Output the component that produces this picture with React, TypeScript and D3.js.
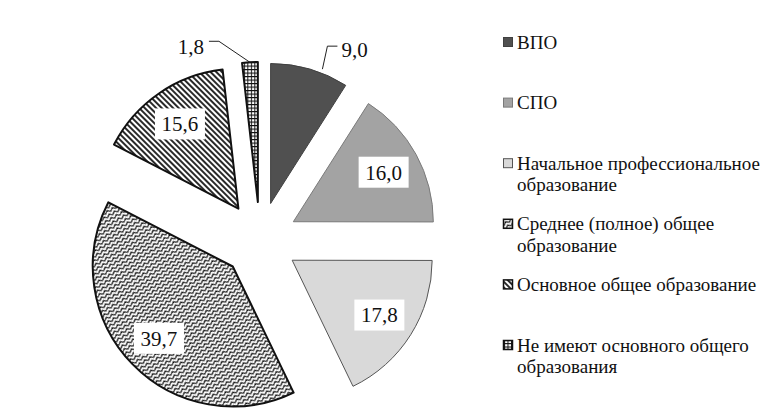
import React from 'react';
import * as d3 from 'd3';

// доли уровня образования, %
const categories = [
  'ВПО',
  'СПО',
  'Начальное профессиональное образование',
  'Среднее (полное) общее образование',
  'Основное общее образование',
  'Не имеют основного общего образования',
];
const values = [9.0, 16.0, 17.8, 39.7, 15.6, 1.8];
const valueLabels = ['9,0', '16,0', '17,8', '39,7', '15,6', '1,8'];
const legendLines = [
  ['ВПО'],
  ['СПО'],
  ['Начальное профессиональное', 'образование'],
  ['Среднее (полное) общее', 'образование'],
  ['Основное общее образование'],
  ['Не имеют основного общего', 'образования'],
];

const W = 784;
const H = 416;
const FONT = '"Liberation Serif"';

const cx = 260;
const cy = 240;
const R = 140;
const explode = 38;

const fills = ['#505050', '#a3a3a3', '#d9d9d9', 'url(#p-zig)', 'url(#p-diag)', 'url(#p-grid)'];
const strokes = ['#404040', '#7a7a7a', '#555', '#111', '#111', '#111'];
const strokeW = [1, 1, 1, 2, 2, 2];

const mid = (a: d3.PieArcDatum<number>) => (a.startAngle + a.endAngle) / 2;
const polar = (ang: number, r: number) => [Math.sin(ang) * r, -Math.cos(ang) * r];

const App = () => {
  const arcs = d3
    .pie<number>()
    .sort(null)
    .value((d) => d)(values);
  const arc = d3.arc<d3.PieArcDatum<number>>().innerRadius(0).outerRadius(R);

  const txt = { fontFamily: FONT, fill: '#111' };

  // выносная подпись ВПО
  const a0 = arcs[0];
  const [o0x, o0y] = polar(mid(a0), explode);
  const [e0x, e0y] = polar(a0.startAngle + (a0.endAngle - a0.startAngle) * 0.65, R + 4);
  const p0 = [o0x + e0x, o0y + e0y];

  // выносная подпись "не имеют"
  const a5 = arcs[5];
  const [o5x, o5y] = polar(mid(a5), explode);
  const [e5x, e5y] = polar(mid(a5), R);
  const p5 = [o5x + e5x, o5y + e5y];

  const ly = d3.scalePoint<string>().domain(categories).range([42, 345]);

  return (
    <svg width={W} height={H} style={{ position: 'absolute', left: 0, top: 0, background: '#fff' }}>
      <defs>
        <pattern id="p-zig" patternUnits="userSpaceOnUse" width={6} height={4} patternTransform="rotate(-30)">
          <rect width={6} height={4} fill="#fff" />
          <path d="M0,3.2 L3,0.8 L6,3.2" fill="none" stroke="#111" strokeWidth={1.1} />
        </pattern>
        <pattern id="p-diag" patternUnits="userSpaceOnUse" width={4} height={4} patternTransform="rotate(-45)">
          <rect width={4} height={4} fill="#fff" />
          <line x1={1} x2={1} y1={0} y2={4} stroke="#111" strokeWidth={1.8} />
        </pattern>
        <pattern id="p-grid" patternUnits="userSpaceOnUse" width={3.5} height={3.5}>
          <rect width={3.5} height={3.5} fill="#fff" />
          <path d="M0,0.5 H3.5 M0.5,0 V3.5" stroke="#111" strokeWidth={1} />
        </pattern>
      </defs>

      <g transform={`translate(${cx},${cy})`}>
        {arcs.map((a, i) => {
          const [ox, oy] = polar(mid(a), explode);
          const [lx, lyy] = polar(mid(a), 103);
          return (
            <g key={categories[i]} transform={`translate(${ox},${oy})`}>
              <path
                d={arc(a) || ''}
                fill={fills[i]}
                stroke={strokes[i]}
                strokeWidth={strokeW[i]}
                strokeLinejoin="round"
              />
              {values[i] > 10 && (
                <g>
                  <rect x={lx - 25} y={lyy - 15.5} width={50} height={31} fill="#fff" />
                  <text x={lx} y={lyy} dy="0.35em" textAnchor="middle" style={{ ...txt, fontSize: 21 }}>
                    {valueLabels[i]}
                  </text>
                </g>
              )}
            </g>
          );
        })}

        <path
          d={`M${p0[0]},${p0[1]} L${p0[0] + 5},${p0[1] - 23} L${p0[0] + 15},${p0[1] - 23}`}
          fill="none"
          stroke="#222"
        />
        <text x={p0[0] + 19} y={p0[1] - 20} dy="0.35em" style={{ ...txt, fontSize: 21 }}>
          {valueLabels[0]}
        </text>

        <path
          d={`M${p5[0]},${p5[1]} L${p5[0] - 31},${p5[1] - 21} L${p5[0] - 41},${p5[1] - 21}`}
          fill="none"
          stroke="#222"
        />
        <text x={p5[0] - 46} y={p5[1] - 16} dy="0.35em" textAnchor="end" style={{ ...txt, fontSize: 21 }}>
          {valueLabels[5]}
        </text>
      </g>

      <g>
        {categories.map((c, i) => {
          const y0 = ly(c) as number;
          return (
            <g key={c}>
              <rect
                x={503.5}
                y={y0 - 4.5}
                width={9}
                height={9}
                fill={fills[i]}
                stroke={i < 3 ? strokes[i] : '#111'}
                strokeWidth={i < 3 ? 1 : 1.5}
              />
              {legendLines[i].map((t, j) => (
                <text key={t} x={517} y={y0 + j * 21.5} dy="0.35em" style={{ ...txt, fontSize: 19 }}>
                  {t}
                </text>
              ))}
            </g>
          );
        })}
      </g>
    </svg>
  );
};

export default App;
